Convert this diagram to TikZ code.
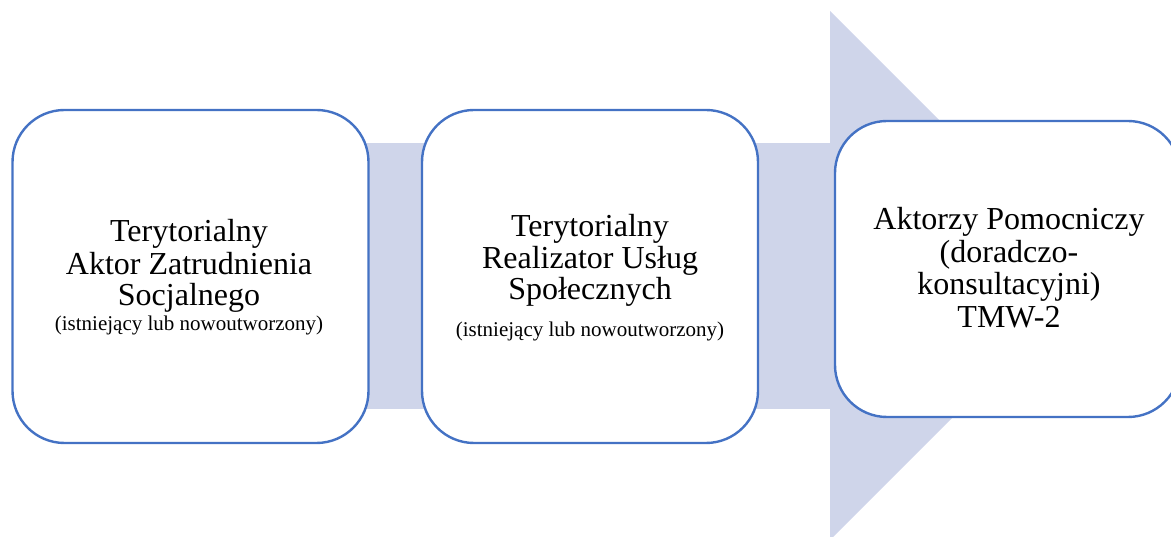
\documentclass[tikz,border=0pt]{standalone}
\usepackage{fontspec}
\setmainfont{Liberation Serif}
\newfontfamily\tnr{Liberation Serif}
\definecolor{bandc}{HTML}{CFD5EA}
\definecolor{edgec}{HTML}{4472C4}
\tikzset{
  box/.style={draw=edgec, line width=2.4pt, fill=white, rounded corners=52pt, inner sep=0pt},
  bigt/.style={font=\tnr\fontsize{32pt}{33pt}\selectfont, anchor=base, inner sep=0pt},
  smallt/.style={font=\tnr\fontsize{21pt}{24pt}\selectfont, anchor=base, inner sep=0pt},
}
\begin{document}
\begin{tikzpicture}[x=1pt,y=-1pt]
\useasboundingbox (0,0) rectangle (1171,537);
\clip (0,0) rectangle (1171,537);
% background arrow
\fill[bandc] (190,143) rectangle (831,409);
\fill[bandc] (830,11) -- (1094.5,275.5) -- (830,540) -- cycle;
% boxes
\node[box, minimum width=356pt, minimum height=333pt] (b1) at (190.5,276.5) {};
\node[box, minimum width=336pt, minimum height=333pt] (b2) at (590,276.5) {};
\node[box, minimum width=345pt, minimum height=296pt] (b3) at (1007.5,269) {};
% texts box 1
\node[bigt] (t11) at (189,241.7) {Terytorialny};
\node[bigt] (t12) at (189,274.3) {Aktor Zatrudnienia};
\node[bigt] (t13) at (189,305.5) {Socjalnego};
\node[smallt] (t14) at (189,330.7) {(istniejący lub nowoutworzony)};
% texts box 2
\node[bigt] (t21) at (590,236.7) {Terytorialny};
\node[bigt] (t22) at (590,268.3) {Realizator Usług};
\node[bigt] (t23) at (590,300) {Społecznych};
\node[smallt] (t24) at (590,336.7) {(istniejący lub nowoutworzony)};
% texts box 3
\node[bigt] (t31) at (1009,230) {Aktorzy Pomocniczy};
\node[bigt] (t32) at (1009,262.5) {(doradczo-};
\node[bigt] (t33) at (1009,295) {konsultacyjni)};
\node[bigt] (t34) at (1009,328) {TMW-2};
\end{tikzpicture}
\end{document}
